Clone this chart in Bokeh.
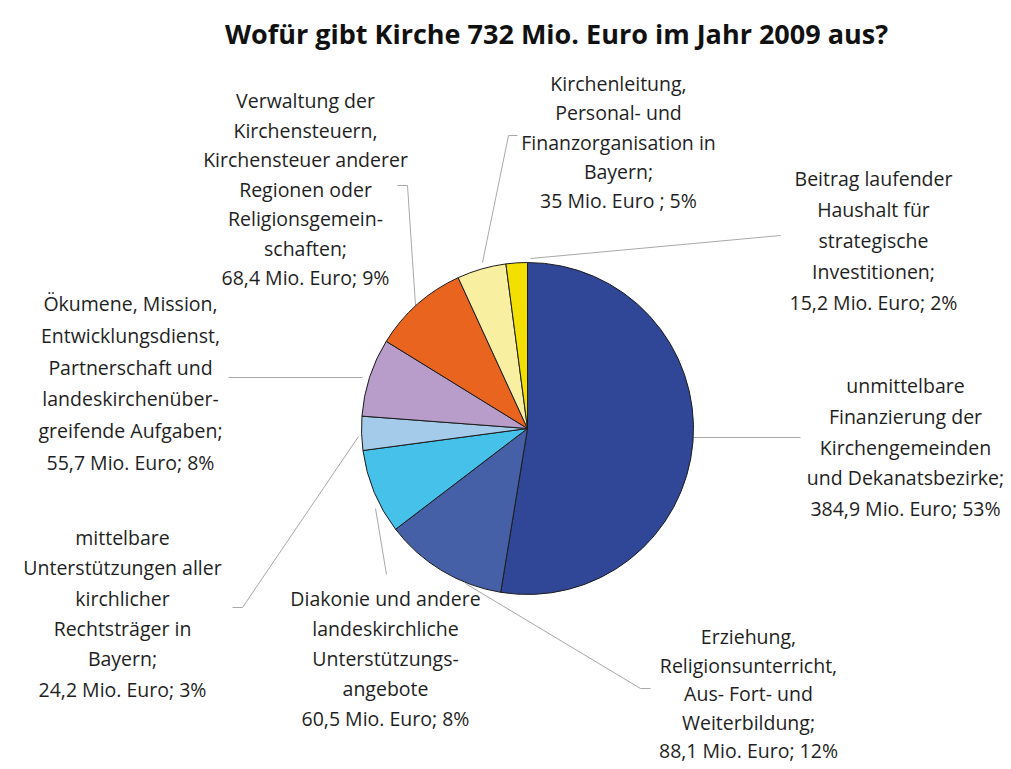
import math
from bokeh.plotting import figure
from bokeh.models import Range1d, ColumnDataSource
from bokeh.embed import file_html
from bokeh.resources import INLINE
from bokeh.core.properties import value

# ---------------- data ----------------
title = "Wofür gibt Kirche 732 Mio. Euro im Jahr 2009 aus?"

categories = [
    ["unmittelbare", "Finanzierung der", "Kirchengemeinden", "und Dekanatsbezirke;"],
    ["Erziehung,", "Religionsunterricht,", "Aus- Fort- und", "Weiterbildung;"],
    ["Diakonie und andere", "landeskirchliche", "Unterstützungs-", "angebote"],
    ["mittelbare", "Unterstützungen aller", "kirchlicher", "Rechtsträger in", "Bayern;"],
    ["Ökumene, Mission,", "Entwicklungsdienst,", "Partnerschaft und",
     "landeskirchenüber-", "greifende Aufgaben;"],
    ["Verwaltung der", "Kirchensteuern,", "Kirchensteuer anderer", "Regionen oder",
     "Religionsgemein-", "schaften;"],
    ["Kirchenleitung,", "Personal- und", "Finanzorganisation in", "Bayern;"],
    ["Beitrag laufender", "Haushalt für", "strategische", "Investitionen;"],
]
values = [384.9, 88.1, 60.5, 24.2, 55.7, 68.4, 35.0, 15.2]
amount_labels = ["384,9 Mio. Euro; 53%", "88,1 Mio. Euro; 12%", "60,5 Mio. Euro; 8%",
                 "24,2 Mio. Euro; 3%", "55,7 Mio. Euro; 8%", "68,4 Mio. Euro; 9%",
                 "35 Mio. Euro ; 5%", "15,2 Mio. Euro; 2%"]
colors = ["#2F4796", "#4660A8", "#45C1EA", "#A4CBEA", "#B89CC9", "#E8641F",
          "#F8F0A0", "#F3E000"]

# ---------------- layout (screen pixels) ----------------
W, H = 1011, 769
def sy(Y):
    return H - Y

CX, CY, R = 527, 428, 166

# label blocks: centre x, first line y, line spacing
blocks = [
    (905, 385, 30.8),
    (748, 636, 28.6),
    (385, 598, 30.0),
    (122, 537, 30.3),
    (130, 303, 31.8),
    (305, 100, 29.5),
    (618, 83, 29.3),
    (873, 178, 31.0),
]

# leader lines (screen pixels)
leaders = [
    [(693, 437), (800, 437)],
    [(465, 583), (640, 688), (650, 688)],
    [(375, 508), (386, 574)],
    [(358, 436), (242, 607), (232, 607)],
    [(362, 377), (228, 377)],
    [(415, 305), (407, 185), (397, 185)],
    [(482, 262), (508, 135), (517, 135)],
    [(530, 258), (780, 235)],
]

# ---------------- figure ----------------
p = figure(width=W, height=H, output_backend="svg", toolbar_location=None,
           x_range=Range1d(0, W), y_range=Range1d(0, H),
           x_axis_type=None, y_axis_type=None, min_border=0)
p.grid.visible = False
p.outline_line_color = None
p.background_fill_color = "white"
p.border_fill_color = "white"

# wedges, clockwise from 12 o'clock
total = sum(values)
starts, ends = [], []
cum = 0.0
for v in values:
    a0 = math.pi / 2 - 2 * math.pi * cum / total
    cum += v
    a1 = math.pi / 2 - 2 * math.pi * cum / total
    starts.append(a0)
    ends.append(a1)

src = ColumnDataSource(dict(x=[CX] * len(values), y=[sy(CY)] * len(values),
                            start=starts, end=ends, color=colors))

# leader lines
xs = [[pt[0] for pt in ln] for ln in leaders]
ys = [[sy(pt[1]) for pt in ln] for ln in leaders]
p.multi_line(xs=xs, ys=ys, line_color="#a8a8a8", line_width=1)

p.wedge(x="x", y="y", radius=R, start_angle="start", end_angle="end",
        direction="clock", fill_color="color", line_color="#1c1c1c",
        line_width=1, source=src)

# labels
tx, ty, tt = [], [], []
for (bx, by, dy), lines, amt in zip(blocks, categories, amount_labels):
    for i, t in enumerate(lines + [amt]):
        tx.append(bx)
        ty.append(sy(by + i * dy))
        tt.append(t)
p.text(x=tx, y=ty, text=tt, text_font=value("Open Sans"), text_font_size="19.5px",
       text_align="center", text_baseline="middle", text_color="#1f1f1f")

# title
p.text(x=[556], y=[sy(33)], text=[title], text_font=value("Open Sans"),
       text_font_size="27px", text_font_style="bold", text_align="center",
       text_baseline="middle", text_color="#111111")

open("out.html", "w").write(file_html(p, INLINE))
